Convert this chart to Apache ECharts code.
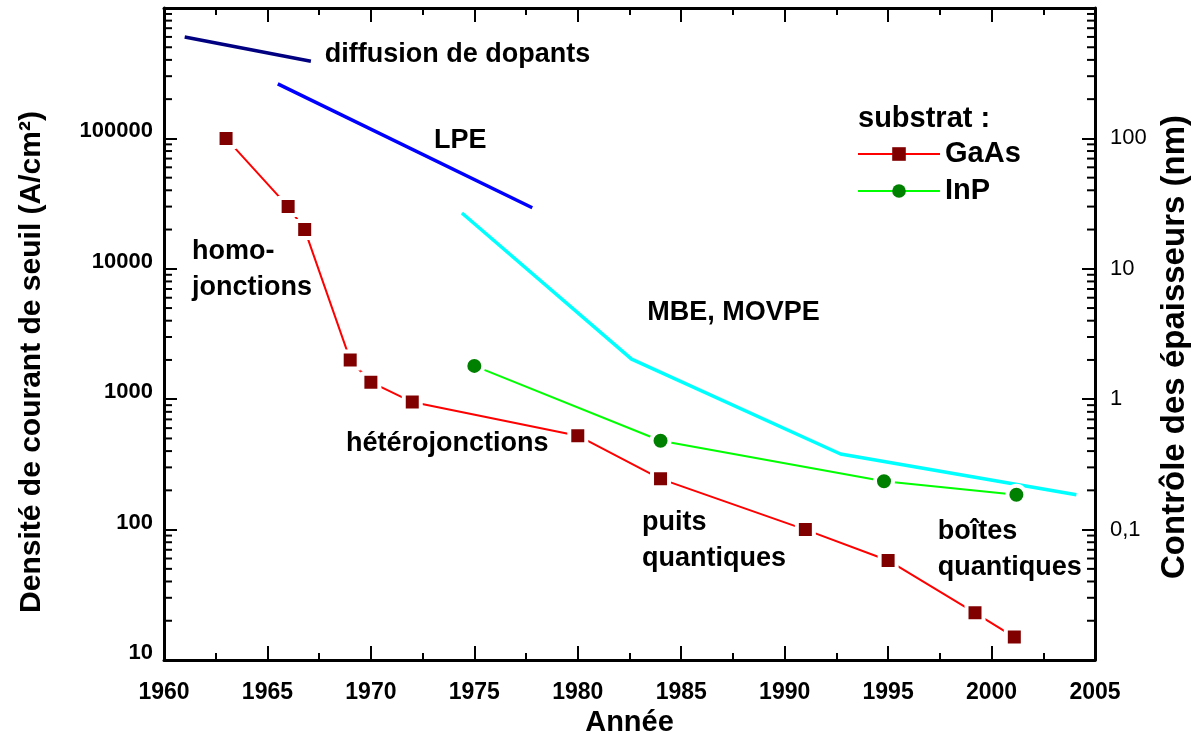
<!DOCTYPE html>
<html>
<head>
<meta charset="utf-8">
<script src="https://cdn.jsdelivr.net/npm/echarts@6/dist/echarts.min.js"></script>
<style>
html,body{margin:0;padding:0;background:#fff;}
#chart{width:1198px;height:731px;}
</style>
</head>
<body>
<div id="chart"></div>
<script>
// ---- data ----
const gaasYears = [1963, 1966, 1966.8, 1969, 1970, 1972, 1980, 1984, 1991, 1995, 1999.2, 2001.1];
const gaasJth   = [100000, 30000, 20000, 2000, 1350, 950, 525, 245, 100, 58, 23, 15];
const inpYears  = [1975, 1984, 1994.8, 2001.2];
const inpJth    = [1800, 480, 235, 185];
const diffYears = [1961, 1967.1];
const diffNm    = [600, 390];
const lpeYears  = [1965.5, 1977.8];
const lpeNm     = [262, 29.4];
const mbeYears  = [1974.4, 1982.6, 1992.7, 2004.1];
const mbeNm     = [26.8, 2.03, 0.38, 0.185];
const xTicks    = [1960, 1965, 1970, 1975, 1980, 1985, 1990, 1995, 2000, 2005];
const leftTickLabels  = ['10', '100', '1000', '10000', '100000'];
const rightTickLabels = ['0,1', '1', '10', '100'];
const annotationTexts  = ['diffusion de dopants', 'LPE', 'homo-\njonctions', 'MBE, MOVPE', 'hétérojonctions', 'puits\nquantiques', 'boîtes\nquantiques'];
const annotationYears  = [1967.77, 1973.05, 1961.35, 1983.36, 1968.8, 1983.1, 1997.4];
const annotationValues = [440000, 96000, 9950, 4600, 453, 83, 70];

// ---- helpers ----
const zip = (a, b) => a.map((v, i) => [v, b[i]]);
const FONT = '"Liberation Sans", Arial, sans-serif';
function minorValues(kFrom, kTo) {
  const out = [];
  for (let k = kFrom; k <= kTo; k++) for (let m = 2; m <= 9; m++) out.push(+(m * Math.pow(10, k)).toPrecision(6));
  return out;
}
const leftMinor = minorValues(1, 5);
const rightMinor = minorValues(-2, 2);

function tickSeries(values, yIndex, xVal, dir) {
  return {
    type: 'custom', xAxisIndex: 0, yAxisIndex: yIndex, silent: true, clip: false, z: 5,
    data: values.map(v => [xVal, v]),
    renderItem: function (params, api) {
      const p = api.coord([api.value(0), api.value(1)]);
      return { type: 'line', shape: { x1: p[0], y1: p[1], x2: p[0] + dir * 8, y2: p[1] },
               style: { stroke: '#000', lineWidth: 2 } };
    }
  };
}

const chart = echarts.init(document.getElementById('chart'), null, { renderer: 'canvas' });

const xAxisBase = {
  type: 'value', min: xTicks[0], max: xTicks[xTicks.length - 1], interval: 5,
  axisLine: { show: true, onZero: false, lineStyle: { color: '#000', width: 3 } },
  axisTick: { show: true, inside: true, length: 14, lineStyle: { color: '#000', width: 2 } },
  minorTick: { show: true, splitNumber: 2, length: 7, lineStyle: { color: '#000', width: 2 } },
  splitLine: { show: false }
};

const option = {
  backgroundColor: '#fff',
  animation: false,
  grid: { left: 164, right: 103, top: 8, bottom: 71, containLabel: false, outerBoundsMode: 'none' },
  legend: {
    data: ['GaAs', 'InP'],
    orient: 'vertical', left: 857, top: 139, padding: 0,
    itemWidth: 82, itemHeight: 17, itemGap: 7,
    itemStyle: { borderWidth: 0 },
    textStyle: { fontFamily: FONT, fontWeight: 'bold', fontSize: 29, color: '#000', lineHeight: 30 }
  },
  graphic: [{
    type: 'text', left: 858, top: 104,
    style: { text: 'substrat :', font: 'bold 29px ' + FONT, fill: '#000' }
  }],
  xAxis: [
    Object.assign({}, xAxisBase, {
      position: 'bottom',
      name: 'Année', nameLocation: 'middle', nameGap: 45,
      nameTextStyle: { fontFamily: FONT, fontWeight: 'bold', fontSize: 29, color: '#000' },
      axisLabel: { margin: 21, fontFamily: FONT, fontWeight: 'bold', fontSize: 23, color: '#000',
        formatter: v => (xTicks.indexOf(v) >= 0 ? String(v) : '') }
    }),
    Object.assign({}, xAxisBase, { position: 'top', axisLabel: { show: false } })
  ],
  yAxis: [
    {
      type: 'log', logBase: 10, min: 10, max: 1000000, position: 'left',
      axisLine: { show: true, lineStyle: { color: '#000', width: 3 } },
      axisTick: { show: true, inside: true, length: 13, lineStyle: { color: '#000', width: 2 } },
      splitLine: { show: false },
      axisLabel: { margin: 11, fontFamily: FONT, fontWeight: 'bold', fontSize: 22, color: '#000',
        verticalAlign: 'bottom', lineHeight: 14,
        formatter: v => { const e = Math.round(Math.log10(v)); return leftTickLabels[e - 1] || ''; } },
      name: 'Densité de courant de seuil (A/cm²)', nameLocation: 'middle', nameRotate: 90, nameGap: 117,
      nameTextStyle: { fontFamily: FONT, fontWeight: 'bold', fontSize: 30, color: '#000', padding: [0, 56, 0, 0] }
    },
    {
      type: 'log', logBase: 10, min: 0.01, max: 1000, position: 'right',
      axisLine: { show: true, lineStyle: { color: '#000', width: 3 } },
      axisTick: { show: true, inside: true, length: 13, lineStyle: { color: '#000', width: 2 } },
      splitLine: { show: false },
      axisLabel: { margin: 15, fontFamily: FONT, fontWeight: 'normal', fontSize: 22, color: '#000',
        formatter: v => { const e = Math.round(Math.log10(v)); return rightTickLabels[e + 1] || ''; } },
      name: 'Contrôle des épaisseurs (nm)', nameLocation: 'middle', nameRotate: 90, nameGap: 63,
      nameTextStyle: { fontFamily: FONT, fontWeight: 'bold', fontSize: 33, color: '#000', padding: [0, 26, 0, 0] }
    }
  ],
  series: [
    { name: 'diffusion de dopants', type: 'line', yAxisIndex: 1, data: zip(diffYears, diffNm), symbol: 'none',
      lineStyle: { color: '#000080', width: 3.5 }, z: 2, silent: true },
    { name: 'LPE', type: 'line', yAxisIndex: 1, data: zip(lpeYears, lpeNm), symbol: 'none',
      lineStyle: { color: '#0000ff', width: 3.5 }, z: 2, silent: true },
    { name: 'MBE, MOVPE', type: 'line', yAxisIndex: 1, data: zip(mbeYears, mbeNm), symbol: 'none',
      lineStyle: { color: '#00ffff', width: 3.5 }, z: 2, silent: true },
    { name: 'InP', type: 'line', yAxisIndex: 0, data: zip(inpYears, inpJth),
      symbol: 'circle', symbolSize: 18, color: '#008000',
      itemStyle: { color: '#008000', borderColor: '#fff', borderWidth: 4 },
      lineStyle: { color: '#00ff00', width: 2 }, z: 3 },
    { name: 'GaAs', type: 'line', yAxisIndex: 0, data: zip(gaasYears, gaasJth),
      symbol: 'rect', symbolSize: 17, color: '#800000',
      itemStyle: { color: '#800000', borderColor: '#fff', borderWidth: 4 },
      lineStyle: { color: '#ff0000', width: 2 }, z: 4 },
    { name: 'annotations', type: 'scatter', yAxisIndex: 0, silent: true, z: 6,
      data: annotationYears.map((y, i) => [y, annotationValues[i], annotationTexts[i]]),
      symbolSize: 0, itemStyle: { color: '#000', opacity: 1 },
      label: { show: true, position: 'right', distance: 0, formatter: p => p.value[2], opacity: 1,
        fontFamily: FONT, fontWeight: 'bold', fontSize: 27, color: '#000', lineHeight: 36, align: 'left' },
      emphasis: { disabled: true } },
    tickSeries(leftMinor, 0, 1960, 1),
    tickSeries(rightMinor, 1, 2005, -1)
  ]
};
chart.setOption(option);
</script>
</body>
</html>
